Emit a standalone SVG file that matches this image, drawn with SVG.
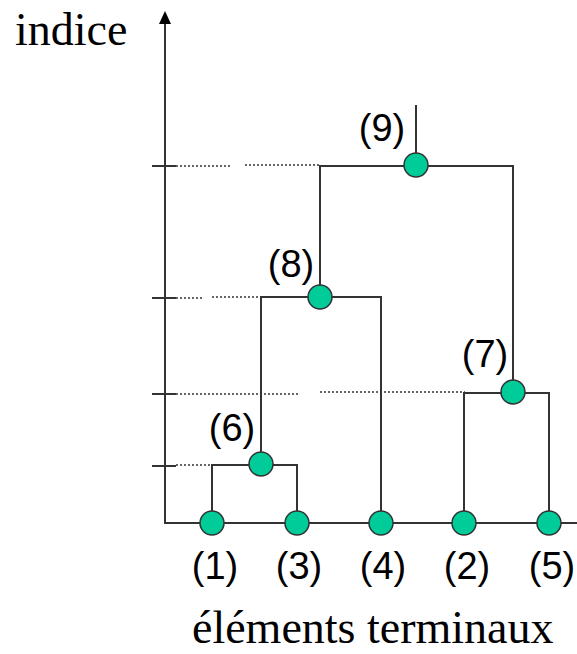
<svg xmlns="http://www.w3.org/2000/svg" width="577" height="654" viewBox="0 0 577 654">
<style>
.ln{stroke:#333;stroke-width:2;fill:none}
.dot{stroke:#666;stroke-width:2;stroke-dasharray:2 2;fill:none}
.nd{fill:#00CC99;stroke:#333;stroke-width:1.5}
.lb{font-family:"Liberation Sans",Arial,sans-serif;font-size:38px;fill:#000;text-anchor:middle}
.ax{font-family:"Liberation Serif","Times New Roman",serif;font-size:46px;fill:#000}
</style>
<g id="axes">
<line class="ln" x1="165" y1="523" x2="165" y2="14"/>
<path d="M165 11 L171 24 L159 24 Z" fill="#000"/>
<line class="ln" x1="164" y1="523" x2="577" y2="523"/>
<text class="ax" x="15" y="45">indice</text>
<text class="ax" x="192" y="643">éléments terminaux</text>
</g>
<g id="ticks">
<line class="ln" x1="152" y1="166" x2="176" y2="166"/>
<line class="ln" x1="152" y1="298" x2="176" y2="298"/>
<line class="ln" x1="152" y1="394" x2="176" y2="394"/>
<line class="ln" x1="152" y1="466" x2="176" y2="466"/>
<line class="dot" x1="176" y1="166" x2="230" y2="166"/>
<line class="dot" x1="245" y1="165" x2="320" y2="165"/>
<line class="dot" x1="176" y1="298" x2="202" y2="298"/>
<line class="dot" x1="212" y1="297" x2="260" y2="297"/>
<line class="dot" x1="176" y1="394" x2="298" y2="394"/>
<line class="dot" x1="320" y1="392" x2="465" y2="392"/>
<line class="dot" x1="176" y1="465" x2="213" y2="465"/>
</g>
<g id="connectors">
<path class="ln" d="M212 523 V465 H297 V523"/>
<path class="ln" d="M261 465 V297 H381 V523"/>
<path class="ln" d="M320 297 V166 H513 V392"/>
<path class="ln" d="M464 523 V393 H549 V523"/>
<path class="ln" d="M416 166 V105"/>
</g>
<g id="n1"><circle class="nd" cx="212" cy="523" r="12"/><text class="lb" x="215" y="579">(1)</text></g>
<g id="n3"><circle class="nd" cx="297" cy="523" r="12"/><text class="lb" x="299" y="579">(3)</text></g>
<g id="n4"><circle class="nd" cx="381" cy="523" r="12"/><text class="lb" x="383" y="579">(4)</text></g>
<g id="n2"><circle class="nd" cx="464" cy="523" r="12"/><text class="lb" x="467" y="579">(2)</text></g>
<g id="n5"><circle class="nd" cx="549" cy="523" r="12"/><text class="lb" x="552" y="579">(5)</text></g>
<g id="n6"><circle class="nd" cx="261" cy="464" r="12"/><text class="lb" x="232" y="441">(6)</text></g>
<g id="n7"><circle class="nd" cx="513" cy="392" r="12"/><text class="lb" x="485" y="367">(7)</text></g>
<g id="n8"><circle class="nd" cx="320" cy="297" r="12"/><text class="lb" x="291" y="277">(8)</text></g>
<g id="n9"><circle class="nd" cx="416" cy="165" r="12"/><text class="lb" x="382" y="141">(9)</text></g>
</svg>
